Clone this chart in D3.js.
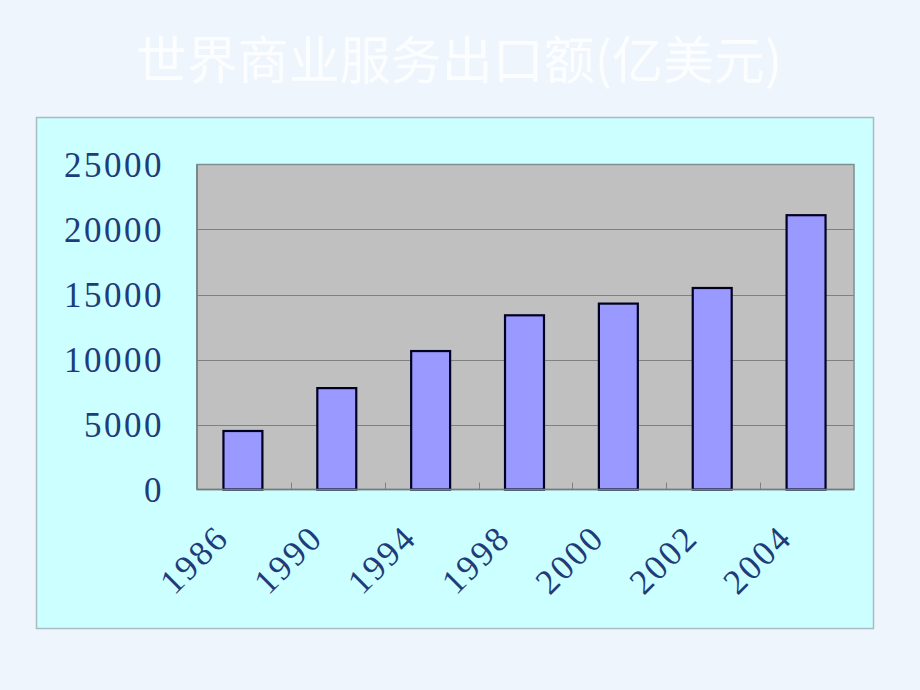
<!DOCTYPE html>
<html><head><meta charset="utf-8">
<script src="https://cdn.jsdelivr.net/npm/d3@7/dist/d3.min.js"></script>
<style>
html,body{margin:0;padding:0;background:#eef5fc;}
svg{display:block;}
</style></head>
<body>
<script>
const title = "世界商业服务出口额(亿美元)";
const categories = ["1986","1990","1994","1998","2000","2002","2004"];
const values = [4500, 7800, 10650, 13400, 14300, 15500, 21100];
const yTicks = [0, 5000, 10000, 15000, 20000, 25000];

const W = 920, H = 690;
const svg = d3.select("body").append("svg").attr("width", W).attr("height", H);
svg.append("rect").attr("width", W).attr("height", H).attr("fill", "#eef5fc");

// title
svg.append("text").attr("x", 459).attr("y", 79).attr("text-anchor", "middle")
  .attr("font-family", "'Noto Sans CJK SC', sans-serif").attr("font-size", 51)
  .attr("fill", "#fbfdff").text(title);

// panel
svg.append("rect").attr("x", 36.5).attr("y", 117.5).attr("width", 837).attr("height", 511)
  .attr("fill", "#ccffff").attr("stroke", "#a9bcc4").attr("stroke-width", 1.5);

const pL = 197, pR = 854, pT = 164.5, pB = 489.5;
const x = d3.scaleBand().domain(categories).range([pL, pR]).paddingInner(0.585).paddingOuter(0.2925);
const xb = d3.scaleBand().domain(categories).range([pL, pR]);
const y = d3.scaleLinear().domain([0, 25000]).range([pB, pT]);

// plot area
svg.append("rect").attr("x", pL).attr("y", pT).attr("width", pR - pL).attr("height", pB - pT)
  .attr("fill", "#c0c0c0").attr("stroke", "#7f8f8f").attr("stroke-width", 1.5);

// gridlines
svg.append("g").selectAll("line").data(yTicks.filter(d => d > 0 && d < 25000)).join("line")
  .attr("x1", pL).attr("x2", pR).attr("y1", d => Math.round(y(d)) + 0.5).attr("y2", d => Math.round(y(d)) + 0.5)
  .attr("stroke", "#808080").attr("stroke-width", 1);

// bottom inner ticks at category boundaries
svg.append("g").selectAll("line").data(categories.slice(1)).join("line")
  .attr("x1", d => Math.round(xb(d)) + 0.5).attr("x2", d => Math.round(xb(d)) + 0.5)
  .attr("y1", pB).attr("y2", pB - 7)
  .attr("stroke", "#808080").attr("stroke-width", 1);

// bars
svg.append("g").selectAll("rect").data(values).join("rect")
  .attr("x", (d, i) => x(categories[i]) - 1)
  .attr("width", x.bandwidth())
  .attr("y", d => y(d))
  .attr("height", d => pB - y(d))
  .attr("fill", "#9999ff").attr("stroke", "#000022").attr("stroke-width", 2.2);

// axes lines
svg.append("line").attr("x1", pL).attr("x2", pL).attr("y1", pT).attr("y2", pB)
  .attr("stroke", "#6f7f7f").attr("stroke-width", 1.5);
svg.append("line").attr("x1", pL).attr("x2", pR).attr("y1", pB).attr("y2", pB)
  .attr("stroke", "#6f7f7f").attr("stroke-width", 1.5);

// y axis labels
const yAxis = d3.axisLeft(y).tickValues(yTicks).tickSize(0).tickPadding(33).tickFormat(d3.format("d"));
const gy = svg.append("g").attr("transform", `translate(${pL},0)`).call(yAxis);
gy.select(".domain").remove();
gy.selectAll("text").attr("font-family", "'Liberation Serif', serif").attr("font-size", 35)
  .attr("letter-spacing", "2.5px").attr("fill", "#1f3b7a").attr("dy", "0.34em");

// x axis labels
const gx = svg.append("g");
gx.selectAll("text").data(categories).join("text")
  .attr("transform", d => `translate(${xb(d) + xb.bandwidth() / 2 - 13},${pB + 50}) rotate(-45)`)
  .attr("text-anchor", "end")
  .attr("font-family", "'Liberation Serif', serif").attr("font-size", 35)
  .attr("letter-spacing", "2.5px").attr("fill", "#1f3b7a").text(d => d);
</script>
</body></html>
